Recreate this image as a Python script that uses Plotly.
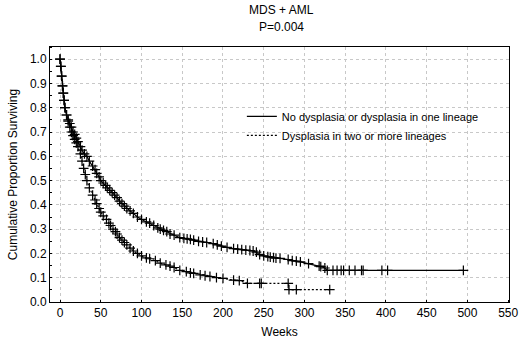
import plotly.graph_objects as go

# Upper curve: No dysplasia or dysplasia in one lineage (solid)
weeks_one = [0, 1, 2, 3, 4, 5, 6, 8, 10, 12, 14, 16, 18, 20, 22, 25, 27, 30, 33, 36,
             40, 43, 45, 48, 50, 53, 56, 58, 61, 64, 67, 70, 73, 76, 79, 82, 86, 90, 95, 100,
             106, 110, 115, 120, 123, 127, 131, 135, 140, 147, 152, 156, 160, 164, 170, 175,
             180, 188, 193, 198, 205, 213, 218, 223, 228, 233, 237, 241, 245, 250, 255, 258,
             262, 265, 270, 280, 285, 290, 295, 305, 318, 320, 325, 328, 335, 340, 345, 348,
             355, 362, 370, 372, 395, 402, 495]
surv_one = [1.00, 0.97, 0.93, 0.89, 0.86, 0.83, 0.80, 0.77, 0.75, 0.735, 0.72, 0.70, 0.69,
            0.675, 0.66, 0.64, 0.625, 0.61, 0.60, 0.58, 0.56, 0.545, 0.53, 0.515, 0.50, 0.49,
            0.48, 0.47, 0.46, 0.45, 0.44, 0.43, 0.415, 0.405, 0.395, 0.385, 0.375, 0.365, 0.35,
            0.34, 0.33, 0.325, 0.315, 0.305, 0.30, 0.295, 0.29, 0.28, 0.275, 0.265, 0.262,
            0.26, 0.258, 0.255, 0.25, 0.247, 0.245, 0.24, 0.235, 0.23, 0.225, 0.22, 0.218,
            0.216, 0.214, 0.212, 0.21, 0.205, 0.195, 0.19, 0.187, 0.185, 0.183, 0.181, 0.18,
            0.175, 0.17, 0.168, 0.165, 0.158, 0.148, 0.146, 0.14, 0.13, 0.13, 0.13, 0.13,
            0.13, 0.13, 0.13, 0.13, 0.13, 0.13, 0.13, 0.13]

# Lower curve: Dysplasia in two or more lineages (dashed)
weeks_two = [0, 1, 2, 3, 4, 5, 6, 8, 10, 12, 14, 16, 18, 20, 22, 25, 27, 29, 31, 33, 36, 40,
             43, 45, 48, 50, 53, 57, 60, 62, 65, 68, 70, 73, 76, 79, 82, 86, 90, 95, 100, 106,
             110, 117, 123, 130, 135, 140, 147, 155, 160, 164, 172, 178, 184, 192, 200, 213,
             220, 230, 245, 247, 280, 281, 290, 331]
surv_two = [1.00, 0.97, 0.93, 0.89, 0.86, 0.83, 0.80, 0.77, 0.745, 0.72, 0.70, 0.685, 0.67,
            0.655, 0.64, 0.61, 0.58, 0.55, 0.525, 0.50, 0.47, 0.44, 0.42, 0.405, 0.385, 0.37,
            0.355, 0.34, 0.325, 0.315, 0.30, 0.29, 0.28, 0.265, 0.255, 0.245, 0.235, 0.222,
            0.21, 0.20, 0.19, 0.182, 0.178, 0.17, 0.16, 0.153, 0.148, 0.142, 0.13, 0.125, 0.12,
            0.118, 0.112, 0.108, 0.105, 0.10, 0.097, 0.09, 0.088, 0.077, 0.077, 0.077, 0.077,
            0.051, 0.051, 0.051]

x_ticks = [0, 50, 100, 150, 200, 250, 300, 350, 400, 450, 500, 550]
y_ticks = [0.0, 0.1, 0.2, 0.3, 0.4, 0.5, 0.6, 0.7, 0.8, 0.9, 1.0]

FONT = "Liberation Sans, Arial, sans-serif"
mk = dict(symbol="cross-thin", size=7, line=dict(color="black", width=1.2))

fig = go.Figure()
fig.add_trace(go.Scatter(
    x=weeks_one, y=surv_one, mode="lines",
    name="No dysplasia or dysplasia in one lineage",
    line=dict(color="black", width=1.2),
))
fig.add_trace(go.Scatter(
    x=weeks_two, y=surv_two, mode="lines",
    name="Dysplasia in two or more lineages",
    line=dict(color="black", width=1.2, dash="2px,2px"),
))
fig.add_trace(go.Scatter(x=weeks_one, y=surv_one, mode="markers", marker=mk,
                         showlegend=False, hoverinfo="skip"))
fig.add_trace(go.Scatter(x=weeks_two, y=surv_two, mode="markers", marker=mk,
                         showlegend=False, hoverinfo="skip"))

axis_common = dict(
    showline=True, linecolor="black", linewidth=1, mirror=True,
    showgrid=True, gridcolor="#c8c8c8", griddash="dot", gridwidth=1,
    zeroline=False, ticks="", automargin=False,
    tickfont=dict(family=FONT, size=12, color="black"),
    title_font=dict(family=FONT, size=12, color="black"),
    minor=dict(ticks="inside", ticklen=2, tickcolor="black", showgrid=False),
)

fig.update_xaxes(range=[-12.3, 551], tickvals=x_ticks, title_text="Weeks",
                 title_standoff=8, **axis_common)
fig.update_yaxes(range=[0, 1.05], tickvals=y_ticks, tickformat=".1f",
                 title_text="Cumulative Proportion Surviving", title_standoff=9,
                 **axis_common)

fig.update_layout(
    width=520, height=347,
    margin=dict(l=50, r=11, t=47, b=45),
    paper_bgcolor="white", plot_bgcolor="white",
    font=dict(family=FONT, size=12, color="black"),
    annotations=[
        dict(text="MDS + AML", xref="paper", yref="paper", x=0.505, y=1.145,
             showarrow=False, xanchor="center", yanchor="middle",
             font=dict(family=FONT, size=12, color="black")),
        dict(text="P=0.004", xref="paper", yref="paper", x=0.505, y=1.078,
             showarrow=False, xanchor="center", yanchor="middle",
             font=dict(family=FONT, size=12, color="black")),
    ],
    legend=dict(x=0.418, y=0.785, xanchor="left", yanchor="top",
                bgcolor="rgba(0,0,0,0)", font=dict(family=FONT, size=11, color="black"),
                itemwidth=30, tracegroupgap=0),
    showlegend=True,
)

fig.write_html("out.html", config={"displayModeBar": False},
               post_script="document.body.style.margin='0';")
